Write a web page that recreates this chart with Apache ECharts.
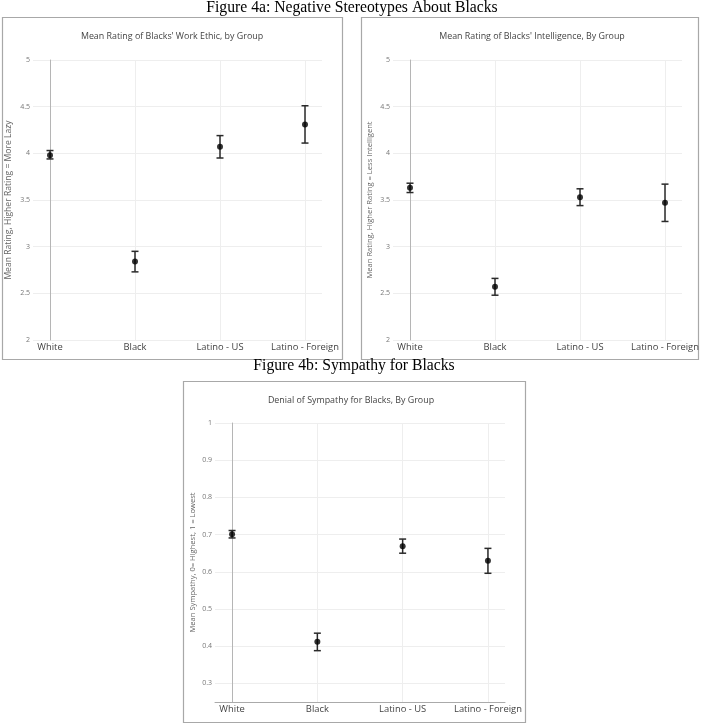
<!DOCTYPE html>
<html><head><meta charset="utf-8">
<script src="https://cdn.jsdelivr.net/npm/echarts@6/dist/echarts.min.js"></script>
<style>html,body{margin:0;padding:0;background:#fff}#c{width:703px;height:724px}</style>
</head><body><div id="c"></div>
<script>
const categories = ['White', 'Black', 'Latino - US', 'Latino - Foreign'];
const workMean = [3.98, 2.84, 4.07, 4.31];
const workLow = [3.94, 2.73, 3.95, 4.11];
const workHigh = [4.03, 2.95, 4.19, 4.51];
const intelMean = [3.63, 2.57, 3.53, 3.47];
const intelLow = [3.58, 2.48, 3.44, 3.27];
const intelHigh = [3.68, 2.66, 3.62, 3.67];
const sympMean = [0.701, 0.412, 0.669, 0.630];
const sympLow = [0.691, 0.388, 0.650, 0.596];
const sympHigh = [0.711, 0.435, 0.688, 0.663];
const ticksRating = [2, 2.5, 3, 3.5, 4, 4.5, 5];
const ticksSymp = [0.3, 0.4, 0.5, 0.6, 0.7, 0.8, 0.9, 1];
const catPositions = [0, 1, 2, 3];

const FONT = 'Open Sans';
const chart = echarts.init(document.getElementById('c'), null, {renderer: 'canvas'});

function errRender(params, api) {
  const x = api.value(0);
  const lo = api.coord([x, api.value(1)]);
  const hi = api.coord([x, api.value(2)]);
  const w = 3.5;
  const style = {stroke: '#2a2a2a', lineWidth: 1.5};
  return {type: 'group', children: [
    {type: 'line', shape: {x1: lo[0], y1: lo[1], x2: hi[0], y2: hi[1]}, style: style},
    {type: 'line', shape: {x1: lo[0] - w, y1: lo[1], x2: lo[0] + w, y2: lo[1]}, style: style},
    {type: 'line', shape: {x1: hi[0] - w, y1: hi[1], x2: hi[0] + w, y2: hi[1]}, style: style}
  ]};
}

function xAx(gi, showLine) {
  return {
    type: 'value', gridIndex: gi, min: -0.2, max: 3.2,
    axisLine: {show: showLine, onZero: false, lineStyle: {color: '#aaa', width: 1}},
    axisTick: {show: false, customValues: catPositions},
    axisLabel: {customValues: catPositions, formatter: v => categories[Math.round(v)] || '', color: '#444', fontSize: 9.4, fontFamily: FONT, margin: 3},
    splitLine: {show: true, lineStyle: {color: '#eee', width: 1}}
  };
}
function yAx(gi, min, max, ticks, name, nameGap, nameSize) {
  return {
    type: 'value', gridIndex: gi, min: min, max: max,
    axisLine: {show: true, lineStyle: {color: '#b5b5b5', width: 1}},
    axisTick: {show: false, customValues: ticks},
    axisLabel: {customValues: ticks, color: '#777', fontSize: 7, fontFamily: FONT, margin: 3},
    splitLine: {show: true, lineStyle: {color: '#eee', width: 1}},
    name: name, nameLocation: 'middle', nameGap: nameGap,
    nameTextStyle: {fontSize: nameSize, color: '#666', fontFamily: FONT}
  };
}
function errData(lo, hi) { return catPositions.map((p, i) => [p, lo[i], hi[i]]); }
function ptData(m) { return catPositions.map((p, i) => [p, m[i]]); }

function txt(x, y, text, size, family, color) {
  return {type: 'text', x: x, y: y, style: {text: text, fontSize: size, fontFamily: family, fill: color, align: 'center', verticalAlign: 'middle'}};
}
function box(x, y, w, h) {
  return {type: 'rect', shape: {x: x, y: y, width: w, height: h}, style: {fill: null, stroke: '#a8a8a8', lineWidth: 1.2}};
}

chart.setOption({
  animation: false,
  graphic: [
    box(2.5, 17.5, 340, 342),
    box(361.5, 17.5, 337, 342),
    box(183.5, 381.5, 342, 341),
    txt(352, 7.5, 'Figure 4a: Negative Stereotypes About Blacks', 15.7, 'Liberation Serif', '#000'),
    txt(354, 366, 'Figure 4b: Sympathy for Blacks', 15.7, 'Liberation Serif', '#000'),
    txt(172, 36, "Mean Rating of Blacks' Work Ethic, by Group", 8.9, FONT, '#444'),
    txt(532, 36, "Mean Rating of Blacks' Intelligence, By Group", 8.9, FONT, '#444'),
    txt(351, 400, 'Denial of Sympathy for Blacks, By Group', 8.9, FONT, '#444')
  ],
  grid: [
    {left: 33, top: 60, width: 289, height: 280},
    {left: 393, top: 60, width: 289, height: 280},
    {left: 215, top: 423, width: 290, height: 279}
  ],
  xAxis: [xAx(0, false), xAx(1, false), xAx(2, true)],
  yAxis: [
    yAx(0, 2, 5, ticksRating, 'Mean Rating, Higher Rating = More Lazy', 20, 8.6),
    yAx(1, 2, 5, ticksRating, 'Mean Rating, Higher Rating = Less Intelligent', 19, 7.6),
    yAx(2, 0.25, 1, ticksSymp, 'Mean Sympathy, 0= Highest, 1 = Lowest', 18, 7.6)
  ],
  series: [
    {type: 'custom', xAxisIndex: 0, yAxisIndex: 0, renderItem: errRender, data: errData(workLow, workHigh), z: 3},
    {type: 'scatter', xAxisIndex: 0, yAxisIndex: 0, data: ptData(workMean), symbolSize: 6, itemStyle: {color: '#000'}, z: 4},
    {type: 'custom', xAxisIndex: 1, yAxisIndex: 1, renderItem: errRender, data: errData(intelLow, intelHigh), z: 3},
    {type: 'scatter', xAxisIndex: 1, yAxisIndex: 1, data: ptData(intelMean), symbolSize: 6, itemStyle: {color: '#000'}, z: 4},
    {type: 'custom', xAxisIndex: 2, yAxisIndex: 2, renderItem: errRender, data: errData(sympLow, sympHigh), z: 3},
    {type: 'scatter', xAxisIndex: 2, yAxisIndex: 2, data: ptData(sympMean), symbolSize: 6, itemStyle: {color: '#000'}, z: 4}
  ]
});
</script>
</body></html>
